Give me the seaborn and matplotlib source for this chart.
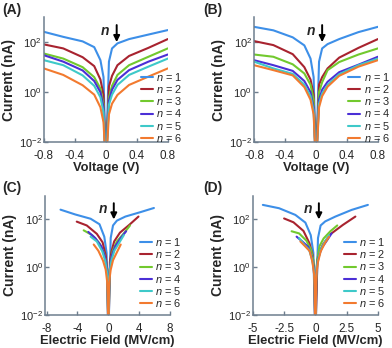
import numpy as np
import pandas as pd
import matplotlib
matplotlib.use('Agg')
import matplotlib.pyplot as plt
import seaborn as sns

sns.set_style('ticks')
plt.rcParams['font.family'] = ['Liberation Sans', 'DejaVu Sans']
plt.rcParams['mathtext.fontset'] = 'custom'
plt.rcParams['mathtext.rm'] = 'Liberation Sans'
plt.rcParams['mathtext.it'] = 'Liberation Sans:italic'
plt.rcParams['mathtext.bf'] = 'Liberation Sans:bold'

layers = [1, 2, 3, 4, 5, 6]
colors = ['#3d8fe8', '#a8232f', '#72c92e', '#4b2fd6', '#3ec9c9', '#f27a2f']

# bias sweep (V), shared by panels A and B
voltage = [-0.8, -0.55, -0.3, -0.15, -0.07, -0.03, 0, 0.04, 0.08, 0.15, 0.3, 0.55, 0.8]

# current (nA) panel A
cur_a = [
    [257, 162, 107, 63, 19, 4.0, 0.001, 16.6, 56, 89, 132, 200, 302],
    [81, 56, 25, 11, 3.2, 0.78, 0.001, 1.7, 4.5, 12, 28, 59, 132],
    [35, 22, 10, 4.0, 1.4, 0.32, 0.001, 0.63, 1.8, 4.9, 12, 26, 56],
    [30, 16.6, 7.4, 2.8, 1.0, 0.25, 0.001, 0.45, 1.26, 3.1, 7.6, 16.6, 32],
    [19, 12, 4.7, 1.8, 0.63, 0.16, 0.001, 0.32, 0.8, 1.95, 4.9, 10.5, 22],
    [8.9, 4.9, 1.9, 0.8, 0.25, 0.063, 0.001, 0.13, 0.35, 0.78, 1.95, 4.2, 8.9],
]
# current (nA) panel B
cur_b = [
    [407, 295, 155, 74, 22, 4.0, 0.001, 16.6, 56, 83, 132, 251, 407],
    [110, 76, 33, 10, 3.2, 0.8, 0.001, 2.0, 4.0, 8.9, 24, 59, 132],
    [32, 26, 13, 5.6, 2.0, 0.5, 0.001, 1.0, 2.5, 7.6, 16, 32, 56],
    [19, 12, 7.1, 2.8, 1.0, 0.25, 0.001, 0.5, 1.26, 2.6, 6.3, 12.6, 26],
    [16.6, 8.9, 5.4, 2.0, 0.7, 0.18, 0.001, 0.35, 0.9, 1.95, 5.2, 12, 22],
    [12, 7.6, 4.7, 1.6, 0.5, 0.13, 0.001, 0.25, 0.7, 1.66, 4.5, 10.5, 19],
]
# electric field (MV/cm) panel C (same sweeps as A)
field_c = [
    [-6.2, -4.3, -2.3, -1.15, -0.53, -0.23, 0, 0.3, 0.6, 1.1, 2.2, 4.1, 5.9],
    [-4.1, -2.8, -1.5, -0.75, -0.35, -0.15, 0, 0.2, 0.4, 0.75, 1.5, 2.7, 3.9],
    [-3.2, -2.1, -1.15, -0.57, -0.27, -0.11, 0, 0.15, 0.3, 0.57, 1.1, 2.0, 2.8],
    [-2.6, -1.7, -0.9, -0.45, -0.21, -0.09, 0, 0.12, 0.24, 0.45, 0.9, 1.6, 2.3],
    [-2.3, -1.5, -0.8, -0.4, -0.18, -0.08, 0, 0.1, 0.2, 0.4, 0.78, 1.4, 2.0],
    [-1.9, -1.3, -0.7, -0.35, -0.16, -0.07, 0, 0.08, 0.16, 0.3, 0.6, 1.1, 1.6],
]
# electric field (MV/cm) panel D (same sweeps as B)
field_d = [
    [-4.2, -2.9, -1.6, -0.8, -0.37, -0.16, 0, 0.21, 0.42, 0.79, 1.6, 2.9, 4.2],
    [-2.5, -1.75, -0.95, -0.47, -0.22, -0.1, 0, 0.16, 0.32, 0.6, 1.2, 2.2, 3.2],
    [-1.9, -1.3, -0.72, -0.36, -0.17, -0.07, 0, 0.09, 0.18, 0.33, 0.66, 1.2, 1.75],
    [-1.5, -1.05, -0.57, -0.29, -0.13, -0.06, 0, 0.07, 0.13, 0.25, 0.5, 0.9, 1.3],
    [-1.3, -0.9, -0.5, -0.25, -0.12, -0.05, 0, 0.06, 0.11, 0.21, 0.42, 0.77, 1.1],
    [-1.2, -0.83, -0.45, -0.23, -0.1, -0.05, 0, 0.06, 0.11, 0.21, 0.42, 0.77, 1.1],
]

panels = [
    dict(lab='(A)', xs=[voltage] * 6, ys=cur_a, xlim=(-0.8, 0.8), xt=[-0.8, -0.4, 0, 0.4, 0.8],
         xl='Voltage (V)', arrow_x=0.14, n_x=0.05, pos=[0.112, 0.591, 0.316, 0.360], leg=(0.78, 0.28)),
    dict(lab='(B)', xs=[voltage] * 6, ys=cur_b, xlim=(-0.8, 0.8), xt=[-0.8, -0.4, 0, 0.4, 0.8],
         xl='Voltage (V)', arrow_x=0.08, n_x=-0.01, pos=[0.648, 0.591, 0.316, 0.360], leg=(0.76, 0.28)),
    dict(lab='(C)', xs=field_c, ys=cur_a, xlim=(-8.2, 8), xt=[-8, -4, 0, 4, 8],
         xl='Electric Field (MV/cm)', arrow_x=0.7, n_x=-0.2, pos=[0.115, 0.095, 0.319, 0.343], leg=(0.76, 0.355)),
    dict(lab='(D)', xs=field_d, ys=cur_b, xlim=(-5, 5), xt=[-5, -2.5, 0, 2.5, 5],
         xl='Electric Field (MV/cm)', arrow_x=0.28, n_x=-0.25, pos=[0.645, 0.095, 0.319, 0.343], leg=(0.73, 0.355)),
]

fig = plt.figure(figsize=(3.92, 3.48), dpi=100)
spine_col = '#6e7e8e'

for p in panels:
    ax = fig.add_axes(p['pos'])
    rows = []
    for n, xv, yv in zip(layers, p['xs'], p['ys']):
        for x, y in zip(xv, yv):
            rows.append({'x': x, 'I': y, 'n': n})
    df = pd.DataFrame(rows)
    sns.lineplot(data=df, x='x', y='I', hue='n', palette=colors, sort=False,
                 estimator=None, lw=1.5, ax=ax, legend=False)
    ax.set_yscale('log')
    ax.set_ylim(1e-2, 1e3)
    ax.set_yticks([1e-2, 1e0, 1e2])
    ax.yaxis.set_minor_locator(matplotlib.ticker.NullLocator())
    ax.set_xlim(*p['xlim'])
    ax.set_xticks(p['xt'])
    ax.set_xticklabels([f'{t:g}' for t in p['xt']])
    for s in ['top', 'right']:
        ax.spines[s].set_visible(False)
    for s in ['left', 'bottom']:
        ax.spines[s].set_color(spine_col)
        ax.spines[s].set_linewidth(1.1)
    ax.tick_params(direction='in', length=3, width=1, color=spine_col, labelsize=8.4, pad=1.5)
    ax.tick_params(axis='y', labelsize=8.0)
    ax.tick_params(axis='x', pad=5.5)
    ax.set_xlabel(p['xl'], fontsize=9.4, fontweight='bold', labelpad=0)
    ax.set_ylabel('Current (nA)', fontsize=10, fontweight='bold', labelpad=2)

    handles = [plt.Line2D([], [], color=c, lw=1.5) for c in colors]
    labels = [f'$n$ = {n}' for n in layers]
    ax.legend(handles, labels, loc='center left', bbox_to_anchor=p['leg'], frameon=False,
              fontsize=7.9, handlelength=1.1, handletextpad=0.3, labelspacing=0.02,
              borderpad=0, borderaxespad=0)

    ax.annotate('', xy=(p['arrow_x'], 10 ** 2.0), xytext=(p['arrow_x'], 10 ** 2.68),
                arrowprops=dict(arrowstyle='-|>', color='black', lw=1.4, mutation_scale=9,
                                shrinkA=0, shrinkB=0))
    ax.text(p['n_x'], 10 ** 2.45, 'n', fontsize=10, fontweight='bold', fontstyle='italic',
            ha='right', va='center')

fig.text(0.005, 0.992, '(A)', fontsize=10, fontweight='bold', va='top')
fig.text(0.518, 0.992, '(B)', fontsize=10, fontweight='bold', va='top')
fig.text(0.005, 0.48, '(C)', fontsize=10, fontweight='bold', va='top')
fig.text(0.518, 0.48, '(D)', fontsize=10, fontweight='bold', va='top')

fig.savefig('out.png', dpi=100)
